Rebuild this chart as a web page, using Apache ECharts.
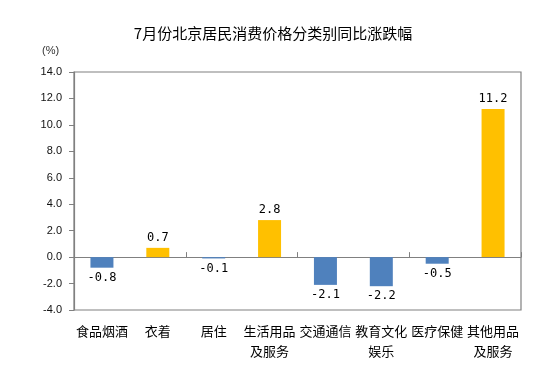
<!DOCTYPE html>
<html><head><meta charset="utf-8">
<script src="https://cdn.jsdelivr.net/npm/echarts@6/dist/echarts.min.js"></script>
<style>html,body{margin:0;padding:0;background:#fff}#c{width:556px;height:370px}</style>
</head><body><div id="c"></div>
<script>
const categories = ['食品烟酒','衣着','居住','生活用品\n及服务','交通通信','教育文化\n娱乐','医疗保健','其他用品\n及服务'];
const values = [-0.8, 0.7, -0.1, 2.8, -2.1, -2.2, -0.5, 11.2];
const yMin = -4, yMax = 14, yStep = 2;
const titleText = '7月份北京居民消费价格分类别同比涨跌幅';
const unitText = '(%)';

const chart = echarts.init(document.getElementById('c'), null, {renderer:'canvas'});
chart.setOption({
  animation:false,
  backgroundColor:'#fff',
  title:{text:titleText,left:268,textAlign:'center',top:21,
    textStyle:{fontSize:15,fontWeight:'normal',color:'#000',fontFamily:'"Noto Sans CJK SC", sans-serif'}},
  graphic:[{type:'text',left:42,top:45,style:{text:unitText,fontSize:11,fill:'#333',fontFamily:'"Liberation Sans", Arial, sans-serif'}}],
  grid:{left:74,right:35,top:72,bottom:60,show:true,borderColor:'#808080',borderWidth:1.2,backgroundColor:'transparent'},
  xAxis:[
    {type:'category',data:categories,
     axisLine:{onZero:true,lineStyle:{color:'#808080',width:1.2}},
     axisTick:{show:true,inside:true,length:5,lineStyle:{color:'#808080'}},
     axisLabel:{show:false}},
    {type:'category',data:categories,position:'bottom',
     axisLine:{show:false,onZero:false},axisTick:{show:false},
     axisLabel:{show:true,margin:11,fontSize:13,lineHeight:20,color:'#000',
       fontFamily:'"Noto Sans CJK SC", sans-serif',interval:0}}
  ],
  yAxis:{type:'value',min:yMin,max:yMax,interval:yStep,
    axisLine:{show:true,lineStyle:{color:'#808080',width:1.2}},
    axisTick:{show:true,length:5,lineStyle:{color:'#808080'}},
    splitLine:{show:false},
    axisLabel:{margin:12,fontSize:11,color:'#111',fontFamily:'"Liberation Sans", Arial, sans-serif',
      formatter:v=>v.toFixed(1)}},
  series:[{type:'bar',xAxisIndex:0,barWidth:23,
    data:values.map(v=>({value:v,itemStyle:{color:v<0?'#4f81bd':'#ffc000'},
      label:{position:v<0?'bottom':'top'}})),
    label:{show:true,distance:4,fontSize:12,color:'#000',fontFamily:'"DejaVu Sans Mono", monospace',
      formatter:p=>p.value.toFixed(1)}}]
});
</script></body></html>
